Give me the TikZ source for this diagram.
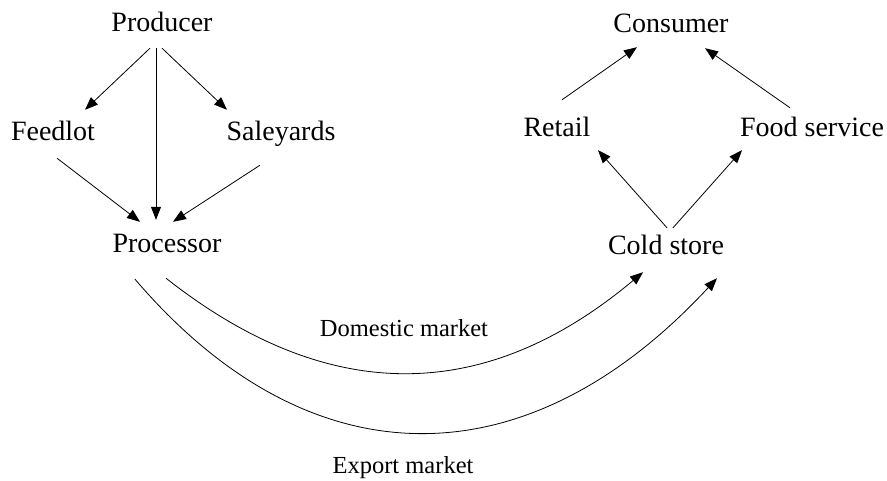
\documentclass[tikz,border=0pt]{standalone}
\usepackage{fontspec}
\setmainfont{Liberation Serif}
\usetikzlibrary{arrows.meta}

\begin{document}
\begin{tikzpicture}[x=1pt, y=-1pt,
  every node/.style={anchor=base, inner sep=0pt, text height=20pt, text depth=6pt, font=\fontsize{28}{30}\selectfont},
  market/.style={font=\fontsize{24.5}{28}\selectfont},
  arr/.style={-{Triangle[length=13pt,width=10pt]}, line width=0.8pt}]
\useasboundingbox (0,0) rectangle (887,481);
\node (producer) at (162,32) {Producer};
\node (feedlot) at (53,141) {Feedlot};
\node (saleyards) at (281,141) {Saleyards};
\node (processor) at (167,253) {Processor};
\node (consumer) at (671,33) {Consumer};
\node (retail) at (557,137) {Retail};
\node (foodservice) at (812,137) {Food service};
\node (coldstore) at (666,255) {Cold store};
\node[market] (domestic) at (404,337) {Domestic market};
\node[market] (export) at (403,473) {Export market};

\draw[arr] ([shift={(-12,10)}]producer.south) -- ([shift={(32,-11)}]feedlot.north);
\draw[arr] ([shift={(-6,10)}]producer.south) -- ([shift={(-11,-13)}]processor.north);
\draw[arr] ([shift={(0,10)}]producer.south) -- ([shift={(-54,-11)}]saleyards.north);
\draw[arr] ([shift={(4,11)}]feedlot.south) -- ([shift={(-27,-11)}]processor.north);
\draw[arr] ([shift={(-21,18)}]saleyards.south) -- ([shift={(6,-11)}]processor.north);
\draw[arr] ([shift={(5,-17)}]retail.north) -- ([shift={(-34,8)}]consumer.south);
\draw[arr] ([shift={(-22,-9)}]foodservice.north) -- ([shift={(34,9)}]consumer.south);
\draw[arr] ([shift={(1,-7)}]coldstore.north) -- ([shift={(41,7)}]retail.south);
\draw[arr] ([shift={(7,-7)}]coldstore.north) -- ([shift={(-70,7)}]foodservice.south);

\draw[arr] ([shift={(-1,19)}]processor.south) .. controls +(165,130) and +(-155,130) .. ([shift={(-23,11)}]coldstore.south);
\draw[arr] ([shift={(-32,20)}]processor.south) .. controls +(175,205) and +(-190,205) .. ([shift={(51,17)}]coldstore.south);
\end{tikzpicture}
\end{document}
